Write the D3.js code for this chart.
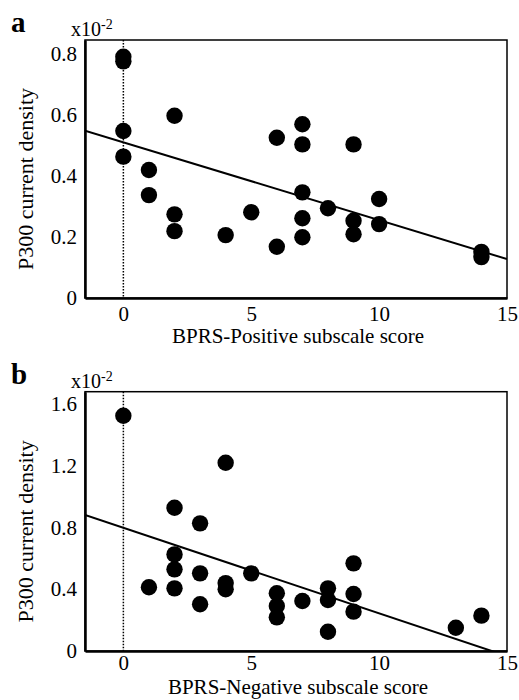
<!DOCTYPE html>
<meta charset="utf-8">
<style>
body { margin: 0; background: #fff; }
svg { display: block; font-family: "Liberation Serif", "DejaVu Serif", serif; }
</style>
<body>
<svg width="519" height="700"></svg>
<script src="https://cdn.jsdelivr.net/npm/d3@7"></script>
<script>
// data (P300 current density, units x10^-2)
var posScore = [0, 0, 0, 0, 1, 1, 2, 2, 2, 4, 5, 6, 6, 7, 7, 7, 7, 7, 8, 9, 9, 9, 10, 10, 14, 14];
var posP300  = [0.79, 0.775, 0.547, 0.463, 0.419, 0.337, 0.597, 0.274, 0.219, 0.206, 0.281, 0.525, 0.168,
                0.569, 0.503, 0.346, 0.261, 0.199, 0.294, 0.503, 0.253, 0.209, 0.324, 0.242, 0.151, 0.134];
var negScore = [0, 1, 2, 2, 2, 2, 3, 3, 3, 4, 4, 4, 5, 6, 6, 6, 7, 8, 8, 8, 9, 9, 9, 13, 14];
var negP300  = [1.524, 0.413, 0.928, 0.626, 0.529, 0.406, 0.827, 0.503, 0.303, 1.22, 0.44, 0.40, 0.503,
                0.374, 0.292, 0.218, 0.324, 0.406, 0.330, 0.125, 0.568, 0.369, 0.255, 0.151, 0.229];

// regression lines (intercept, slope)
var posFit = [0.510, -0.0255];
var negFit = [0.798, -0.0554];

var xTicks = [0, 5, 10, 15];
var posYTicks = [0, 0.2, 0.4, 0.6, 0.8];
var negYTicks = [0, 0.4, 0.8, 1.2, 1.6];

var serif = '"Liberation Serif", "DejaVu Serif", serif';
var svg = d3.select("svg");
var left = 85, right = 507;

var panels = [
  {id: "a", top: 40, bottom: 298, xs: posScore, ys: posP300, fit: posFit, yMax: 0.845, yTicks: posYTicks,
   xTitle: "BPRS-Positive subscale score", tickPad: 8, titleOff: 45},
  {id: "b", top: 391.7, bottom: 651, xs: negScore, ys: negP300, fit: negFit, yMax: 1.68, yTicks: negYTicks,
   xTitle: "BPRS-Negative subscale score", tickPad: 4, titleOff: 43}
];

function styleAxis(a) {
  a.attr("font-family", null).attr("font-size", null);
  a.select(".domain").attr("stroke-width", 2.5);
  a.selectAll("text")
    .style("font-family", serif)
    .style("font-size", "21px")
    .attr("fill", "#000");
}

panels.forEach(function(p, i) {
  var x = d3.scaleLinear().domain([-1.5, 15]).range([left, right]);
  var y = d3.scaleLinear().domain([0, p.yMax]).range([p.bottom, p.top]);

  var clipId = "clip" + i;
  svg.append("clipPath").attr("id", clipId)
    .append("rect")
      .attr("x", left).attr("y", p.top)
      .attr("width", right - left).attr("height", p.bottom - p.top);

  var g = svg.append("g");

  // dotted line at score 0
  g.append("line")
      .attr("x1", x(0)).attr("x2", x(0))
      .attr("y1", p.top).attr("y2", p.bottom)
      .attr("stroke", "#000")
      .attr("stroke-width", 1.5)
      .attr("stroke-dasharray", "1.5,1.5");

  // regression line
  g.append("line")
      .attr("clip-path", "url(#" + clipId + ")")
      .attr("x1", x(-1.5)).attr("y1", y(p.fit[0] + p.fit[1] * -1.5))
      .attr("x2", x(15)).attr("y2", y(p.fit[0] + p.fit[1] * 15))
      .attr("stroke", "#000")
      .attr("stroke-width", 2);

  g.selectAll("circle")
    .data(p.xs.map(function(v, k) { return [v, p.ys[k]]; }))
    .enter().append("circle")
      .attr("cx", function(d) { return x(d[0]); })
      .attr("cy", function(d) { return y(d[1]); })
      .attr("r", 8.2)
      .attr("fill", "#000");

  // frame
  g.append("rect")
      .attr("x", left).attr("y", p.top)
      .attr("width", right - left).attr("height", p.bottom - p.top)
      .attr("fill", "none")
      .attr("stroke", "#000")
      .attr("stroke-width", 1.5);

  g.append("g")
      .attr("transform", "translate(0," + p.bottom + ")")
      .call(d3.axisBottom(x).tickValues(xTicks).tickSize(0).tickPadding(p.tickPad))
      .call(styleAxis);

  g.append("g")
      .attr("transform", "translate(" + left + ",0)")
      .call(d3.axisLeft(y).tickValues(p.yTicks).tickSize(0).tickPadding(8)
        .tickFormat(function(d) { return d === 0 ? "0" : d.toFixed(1); }))
      .call(styleAxis);

  svg.append("text")
      .attr("x", (left + right) / 2 + 2)
      .attr("y", p.bottom + p.titleOff)
      .attr("text-anchor", "middle")
      .style("font-size", "21px")
      .text(p.xTitle);

  svg.append("text")
      .attr("transform", "translate(33," + ((p.top + p.bottom) / 2 + 10) + ") rotate(-90)")
      .attr("text-anchor", "middle")
      .style("font-size", "22px")
      .text("P300 current density");

  var sc = svg.append("text")
      .attr("x", 71)
      .attr("y", p.top - 4)
      .style("font-size", "20px")
      .text("x10");
  sc.append("tspan")
      .attr("dy", "-7")
      .style("font-size", "14px")
      .text("-2");

  svg.append("text")
      .attr("x", 11)
      .attr("y", p.top - 8)
      .style("font-size", "29px")
      .style("font-weight", "bold")
      .text(p.id);
});
</script>
</body>
